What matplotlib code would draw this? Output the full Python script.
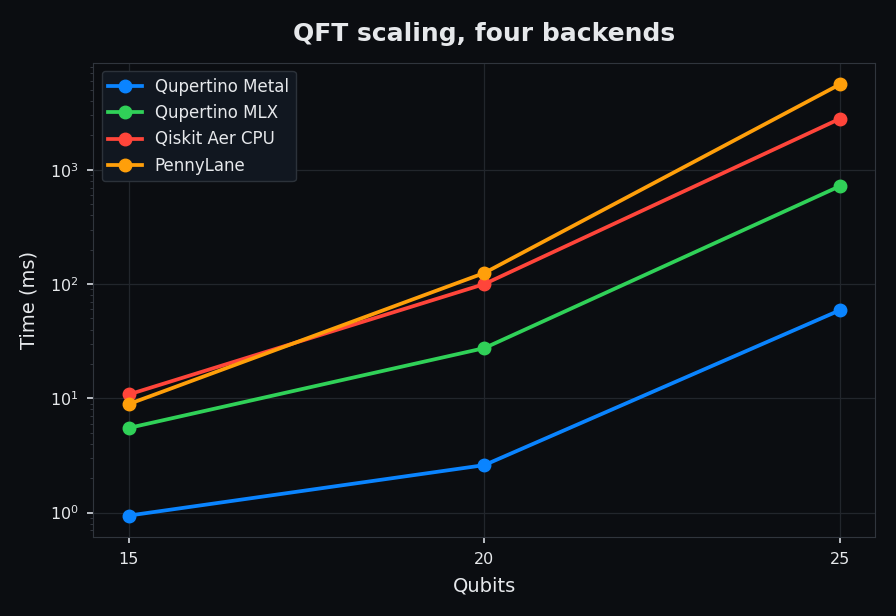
import matplotlib.pyplot as plt

# Datos del gráfico (tiempos en ms)
qubits = [15, 20, 25]
metal = [0.94, 2.6, 59]
mlx = [5.5, 27.5, 720]
qiskit = [10.8, 100, 2800]
pennylane = [8.9, 125, 5600]

series = [
    ("Qupertino Metal", metal, "#0A84FF"),
    ("Qupertino MLX", mlx, "#30D158"),
    ("Qiskit Aer CPU", qiskit, "#FF453A"),
    ("PennyLane", pennylane, "#FF9F0A"),
]

bg = "#0b0d11"
fg = "#e6e8eb"

fig, ax = plt.subplots(figsize=(8.96, 6.16), dpi=100)
fig.patch.set_facecolor(bg)
ax.set_facecolor(bg)

for name, vals, color in series:
    ax.plot(qubits, vals, marker="o", markersize=9, linewidth=2.7, color=color, label=name)

ax.set_yscale("log")
ax.set_xticks(qubits)
ax.set_xlim(14.5, 25.5)

ax.set_title("QFT scaling, four backends", color=fg, fontsize=18, fontweight="bold", pad=16)
ax.set_xlabel("Qubits", color=fg, fontsize=14, labelpad=7)
ax.set_ylabel("Time (ms)", color=fg, fontsize=14, labelpad=8)

ax.tick_params(which="major", colors="#c8ccd2", labelsize=11.5, labelcolor=fg,
               length=4.5, width=1.3, pad=6)
ax.tick_params(which="minor", colors="#3a3f47")
for s in ax.spines.values():
    s.set_color("#30353d")
ax.grid(True, which="major", color="#22262c", linewidth=0.9)

leg = ax.legend(loc="upper left", fontsize=12, facecolor="#111720", edgecolor="#2c323a",
                labelcolor=fg, framealpha=1)

fig.subplots_adjust(left=0.104, right=0.977, top=0.898, bottom=0.128)
plt.savefig("out.png", facecolor=bg)
